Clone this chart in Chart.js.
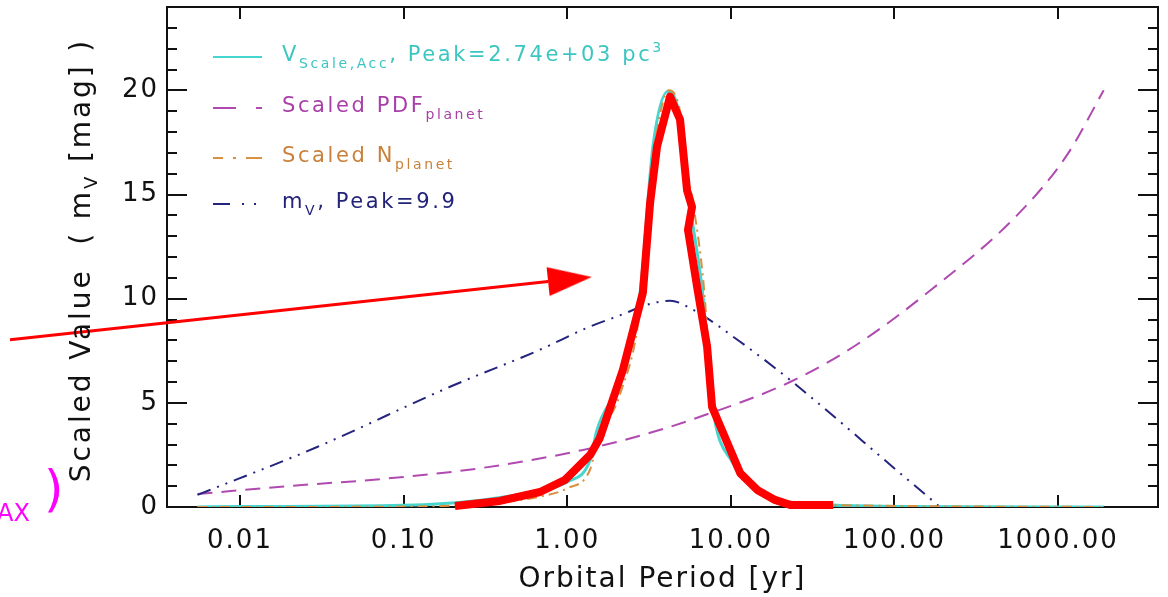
<!DOCTYPE html>
<html>
<head>
<meta charset="utf-8">
<script src="https://cdn.jsdelivr.net/npm/chart.js@4"></script>
<style>
  html, body { margin: 0; padding: 0; background: #fff; }
  #wrap { width: 1168px; height: 597px; }
</style>
</head>
<body>
<div id="wrap"><canvas id="canvas" width="1168" height="597"></canvas></div>
<script>
// ---- values ----
const xTicks = [0.01, 0.1, 1, 10, 100, 1000];
const yTicks = [0, 5, 10, 15, 20];
const yMinorTicks = [1, 2, 3, 4, 6, 7, 8, 9, 11, 12, 13, 14, 16, 17, 18, 19, 21, 22, 23];

// V_scale,acc (cyan)
const periodV = [0.0055, 0.01, 0.1, 0.305, 0.68, 1.0, 1.38, 1.52, 2.10, 2.79, 3.34, 4.13, 4.89, 5.40, 5.87, 6.76, 7.67, 10.3, 14.5, 24, 107, 1000, 1900];
const valueV  = [0, 0.02, 0.08, 0.34, 0.8, 1.2, 2.26, 3.7, 6.1, 10.3, 17.3, 19.95, 18.6, 15.2, 13.5, 10.1, 5.0, 2.1, 0.82, 0.2, 0.03, 0, 0];

// scaled N_planet (orange)
const periodN = [0.0055, 0.1, 0.305, 0.68, 1.0, 1.38, 1.52, 2.10, 2.79, 3.34, 4.2, 4.89, 5.40, 5.87, 6.76, 7.67, 10.3, 14.5, 24, 107, 1900];
const valueN  = [0, 0.02, 0.15, 0.5, 0.9, 1.8, 3.1, 5.4, 9.5, 16.6, 20.0, 19.0, 16.2, 14.6, 11.0, 5.7, 2.4, 0.95, 0.25, 0.05, 0];

// scaled PDF_planet (magenta)
const periodPDF = [0.0055, 0.0202, 0.0748, 0.305, 1.25, 3.21, 6.48, 23.0, 59, 172, 561, 1135, 1900];
const valuePDF  = [0.62, 1.01, 1.35, 1.88, 2.74, 3.56, 4.33, 6.0, 7.8, 10.5, 14.0, 16.9, 20.0];

// m_V (navy)
const periodM = [0.0055, 0.0296, 0.192, 0.682, 1.32, 2.10, 3.21, 4.25, 5.87, 11.4, 23.0, 108, 190];
const valueM  = [0.58, 2.88, 5.77, 7.55, 8.6, 9.2, 9.75, 9.9, 9.47, 7.93, 6.1, 1.63, 0];

// red hand-drawn overlay
const redX = [0.206, 0.388, 0.682, 0.97, 1.38, 1.58, 2.19, 2.90, 3.21, 3.54, 4.25, 4.89, 5.40, 5.79, 5.47, 6.21, 7.16, 7.68, 11.4, 14.5, 18.6, 23.0, 42.2];
const redY = [0.05, 0.29, 0.72, 1.3, 2.5, 3.3, 6.59, 10.29, 14.6, 17.3, 19.7, 18.6, 15.2, 14.4, 13.3, 10.6, 7.7, 4.8, 1.63, 0.82, 0.34, 0.1, 0.1];
const arrowX = [0.000393, 0.764];
const arrowY = [8.03, 10.82];

const FONT = '"DejaVu Sans", sans-serif';

function pts(xs, ys) {
  return xs.map((x, i) => ({x: x, y: ys[i]}));
}

// arrow head as a point image (base centre sits on the point)
const arrowHead = document.createElement('canvas');
arrowHead.width = 88;
arrowHead.height = 32;
(function () {
  const c = arrowHead.getContext('2d');
  c.fillStyle = '#ff0000';
  c.beginPath();
  c.moveTo(44, 1.5);
  c.lineTo(88, 16);
  c.lineTo(44, 30.5);
  c.closePath();
  c.fill();
})();

// box + inward ticks, IDL style
const framePlugin = {
  id: 'frame',
  beforeDatasetsDraw(chart) {
    const {ctx, chartArea: a, scales: {x, y}} = chart;
    ctx.save();
    ctx.strokeStyle = '#111';
    ctx.lineWidth = 2;
    ctx.strokeRect(a.left, a.top, a.right - a.left, a.bottom - a.top);
    ctx.beginPath();
    yTicks.concat(yMinorTicks).forEach(v => {
      const py = Math.round(y.getPixelForValue(v));
      const len = yTicks.includes(v) ? 20 : 10;
      ctx.moveTo(a.left, py); ctx.lineTo(a.left + len, py);
      ctx.moveTo(a.right, py); ctx.lineTo(a.right - len, py);
    });
    xTicks.forEach(v => {
      const px = Math.round(x.getPixelForValue(v));
      ctx.moveTo(px, a.bottom); ctx.lineTo(px, a.bottom - 12);
      ctx.moveTo(px, a.top); ctx.lineTo(px, a.top + 12);
    });
    ctx.stroke();
    ctx.restore();
  }
};

function drawRich(ctx, x, y, parts, size, subSize) {
  let cx = x;
  parts.forEach(([t, k]) => {
    const s = k === 'n' ? size : subSize;
    const dy = k === 'sub' ? size * 0.32 : (k === 'sup' ? -size * 0.45 : 0);
    ctx.font = s + 'px ' + FONT;
    ctx.fillText(t, cx, y + dy);
    cx += ctx.measureText(t).width;
  });
  return cx - x;
}

function richWidth(ctx, parts, size, subSize) {
  let w = 0;
  parts.forEach(([t, k]) => {
    ctx.font = (k === 'n' ? size : subSize) + 'px ' + FONT;
    w += ctx.measureText(t).width;
  });
  return w;
}

const legendRows = [
  {color: '#46d6d0', text: '#3cc6c2', dash: [], parts: [['V', 'n'], ['Scale,Acc', 'sub'], [', Peak=2.74e+03 pc', 'n'], ['3', 'sup']]},
  {color: '#b04ab0', text: '#a83ea8', dash: [23, 20, 6, 100], parts: [['Scaled PDF', 'n'], ['planet', 'sub']]},
  {color: '#d9913f', text: '#c9803a', dash: [10, 10, 3, 10, 16, 100], parts: [['Scaled N', 'n'], ['planet', 'sub']]},
  {color: '#24247e', text: '#23237a', dash: [17, 12, 2, 10, 2, 100], parts: [['m', 'n'], ['V', 'sub'], [', Peak=9.9', 'n']]}
];
const legendBaselines = [61, 112, 162, 208];

const textPlugin = {
  id: 'texts',
  beforeDraw(chart) {
    chart.ctx.letterSpacing = '2px';
  },
  afterDraw(chart) {
    const ctx = chart.ctx;
    ctx.save();
    // legend
    ctx.letterSpacing = '2.6px';
    ctx.textBaseline = 'alphabetic';
    ctx.textAlign = 'left';
    legendRows.forEach((row, i) => {
      const by = legendBaselines[i];
      ctx.strokeStyle = row.color;
      ctx.lineWidth = 2;
      ctx.setLineDash(row.dash);
      ctx.beginPath();
      ctx.moveTo(213, by - 4);
      ctx.lineTo(262, by - 4);
      ctx.stroke();
      ctx.setLineDash([]);
      ctx.fillStyle = row.text;
      drawRich(ctx, 282, by, row.parts, 21, 14);
    });
    // y title with subscript
    ctx.letterSpacing = '2.9px';
    ctx.fillStyle = '#111';
    ctx.textBaseline = 'middle';
    const yParts = [['Scaled Value  ( m', 'n'], ['V', 'sub'], [' [mag] )', 'n']];
    const w = richWidth(ctx, yParts, 28, 18);
    ctx.translate(83, 260);
    ctx.rotate(-Math.PI / 2);
    drawRich(ctx, -w / 2, 0, yParts, 28, 18);
    ctx.restore();
    // stray magenta annotation text at lower left
    ctx.save();
    ctx.letterSpacing = '0px';
    ctx.fillStyle = '#ff00ff';
    ctx.textBaseline = 'alphabetic';
    ctx.font = '24px ' + FONT;
    ctx.fillText('AX', -3, 521);
    ctx.font = '50px ' + FONT;
    ctx.fillText(')', 44, 506);
    ctx.restore();
    ctx.letterSpacing = '0px';
  }
};

const data = {
  datasets: [
    {
      label: 'arrow',
      data: pts(arrowX, arrowY),
      borderColor: '#ff0000',
      backgroundColor: '#ff0000',
      borderWidth: 3,
      pointRadius: [0, 10],
      pointStyle: ctx => ctx.dataIndex === 1 ? arrowHead : 'circle',
      pointRotation: -6,
      clip: false
    },
    {
      label: 'red',
      data: pts(redX, redY),
      borderColor: '#ff0000',
      borderWidth: 8,
      borderJoinStyle: 'round',
      borderCapStyle: 'butt',
      pointRadius: 0,
      clip: false
    },
    {
      label: 'Scaled N_planet',
      data: pts(periodN, valueN),
      borderColor: '#d9913f',
      borderWidth: 2,
      borderDash: [10, 5, 2, 5],
      pointRadius: 0,
      cubicInterpolationMode: 'monotone'
    },
    {
      label: 'm_V, Peak=9.9',
      data: pts(periodM, valueM),
      borderColor: '#24247e',
      borderWidth: 2,
      borderDash: [14, 7, 2, 7, 2, 7],
      pointRadius: 0,
      cubicInterpolationMode: 'monotone'
    },
    {
      label: 'Scaled PDF_planet',
      data: pts(periodPDF, valuePDF),
      borderColor: '#b04ab0',
      borderWidth: 2,
      borderDash: [15, 9],
      pointRadius: 0,
      cubicInterpolationMode: 'monotone'
    },
    {
      label: 'V_Scale,Acc, Peak=2.74e+03 pc3',
      data: pts(periodV, valueV),
      borderColor: '#46d6d0',
      borderWidth: 3,
      pointRadius: 0,
      cubicInterpolationMode: 'monotone'
    }
  ]
};

const config = {
  type: 'line',
  data: data,
  options: {
    responsive: false,
    animation: false,
    devicePixelRatio: 1,
    layout: { autoPadding: false, padding: { top: 7, right: 10, left: 0, bottom: 0 } },
    plugins: {
      legend: { display: false },
      tooltip: { enabled: false }
    },
    scales: {
      x: {
        type: 'logarithmic',
        min: 0.00358,
        max: 4080,
        grid: { display: false, drawTicks: false },
        border: { display: false },
        afterBuildTicks: s => { s.ticks = xTicks.map(v => ({value: v})); },
        afterFit: s => { s.height = 90; s.paddingLeft = 0; s.paddingRight = 0; },
        ticks: {
          autoSkip: false,
          maxRotation: 0,
          padding: 19,
          color: '#111',
          font: { family: FONT, size: 26 },
          callback: v => Number(v).toFixed(2)
        },
        title: {
          display: true,
          text: 'Orbital Period [yr]',
          color: '#111',
          font: { family: FONT, size: 28 },
          padding: { top: 0, bottom: 0 }
        }
      },
      y: {
        type: 'linear',
        min: 0,
        max: 24,
        grid: { display: false, drawTicks: false },
        border: { display: false },
        afterBuildTicks: s => { s.ticks = yTicks.map(v => ({value: v})); },
        afterFit: s => { s.width = 167; s.paddingTop = 0; s.paddingBottom = 0; },
        ticks: {
          padding: 8,
          color: '#111',
          font: { family: FONT, size: 26 }
        }
      }
    }
  },
  plugins: [framePlugin, textPlugin]
};

const canvas = document.getElementById('canvas');
const chart = new Chart(canvas, config);
</script>
</body>
</html>
